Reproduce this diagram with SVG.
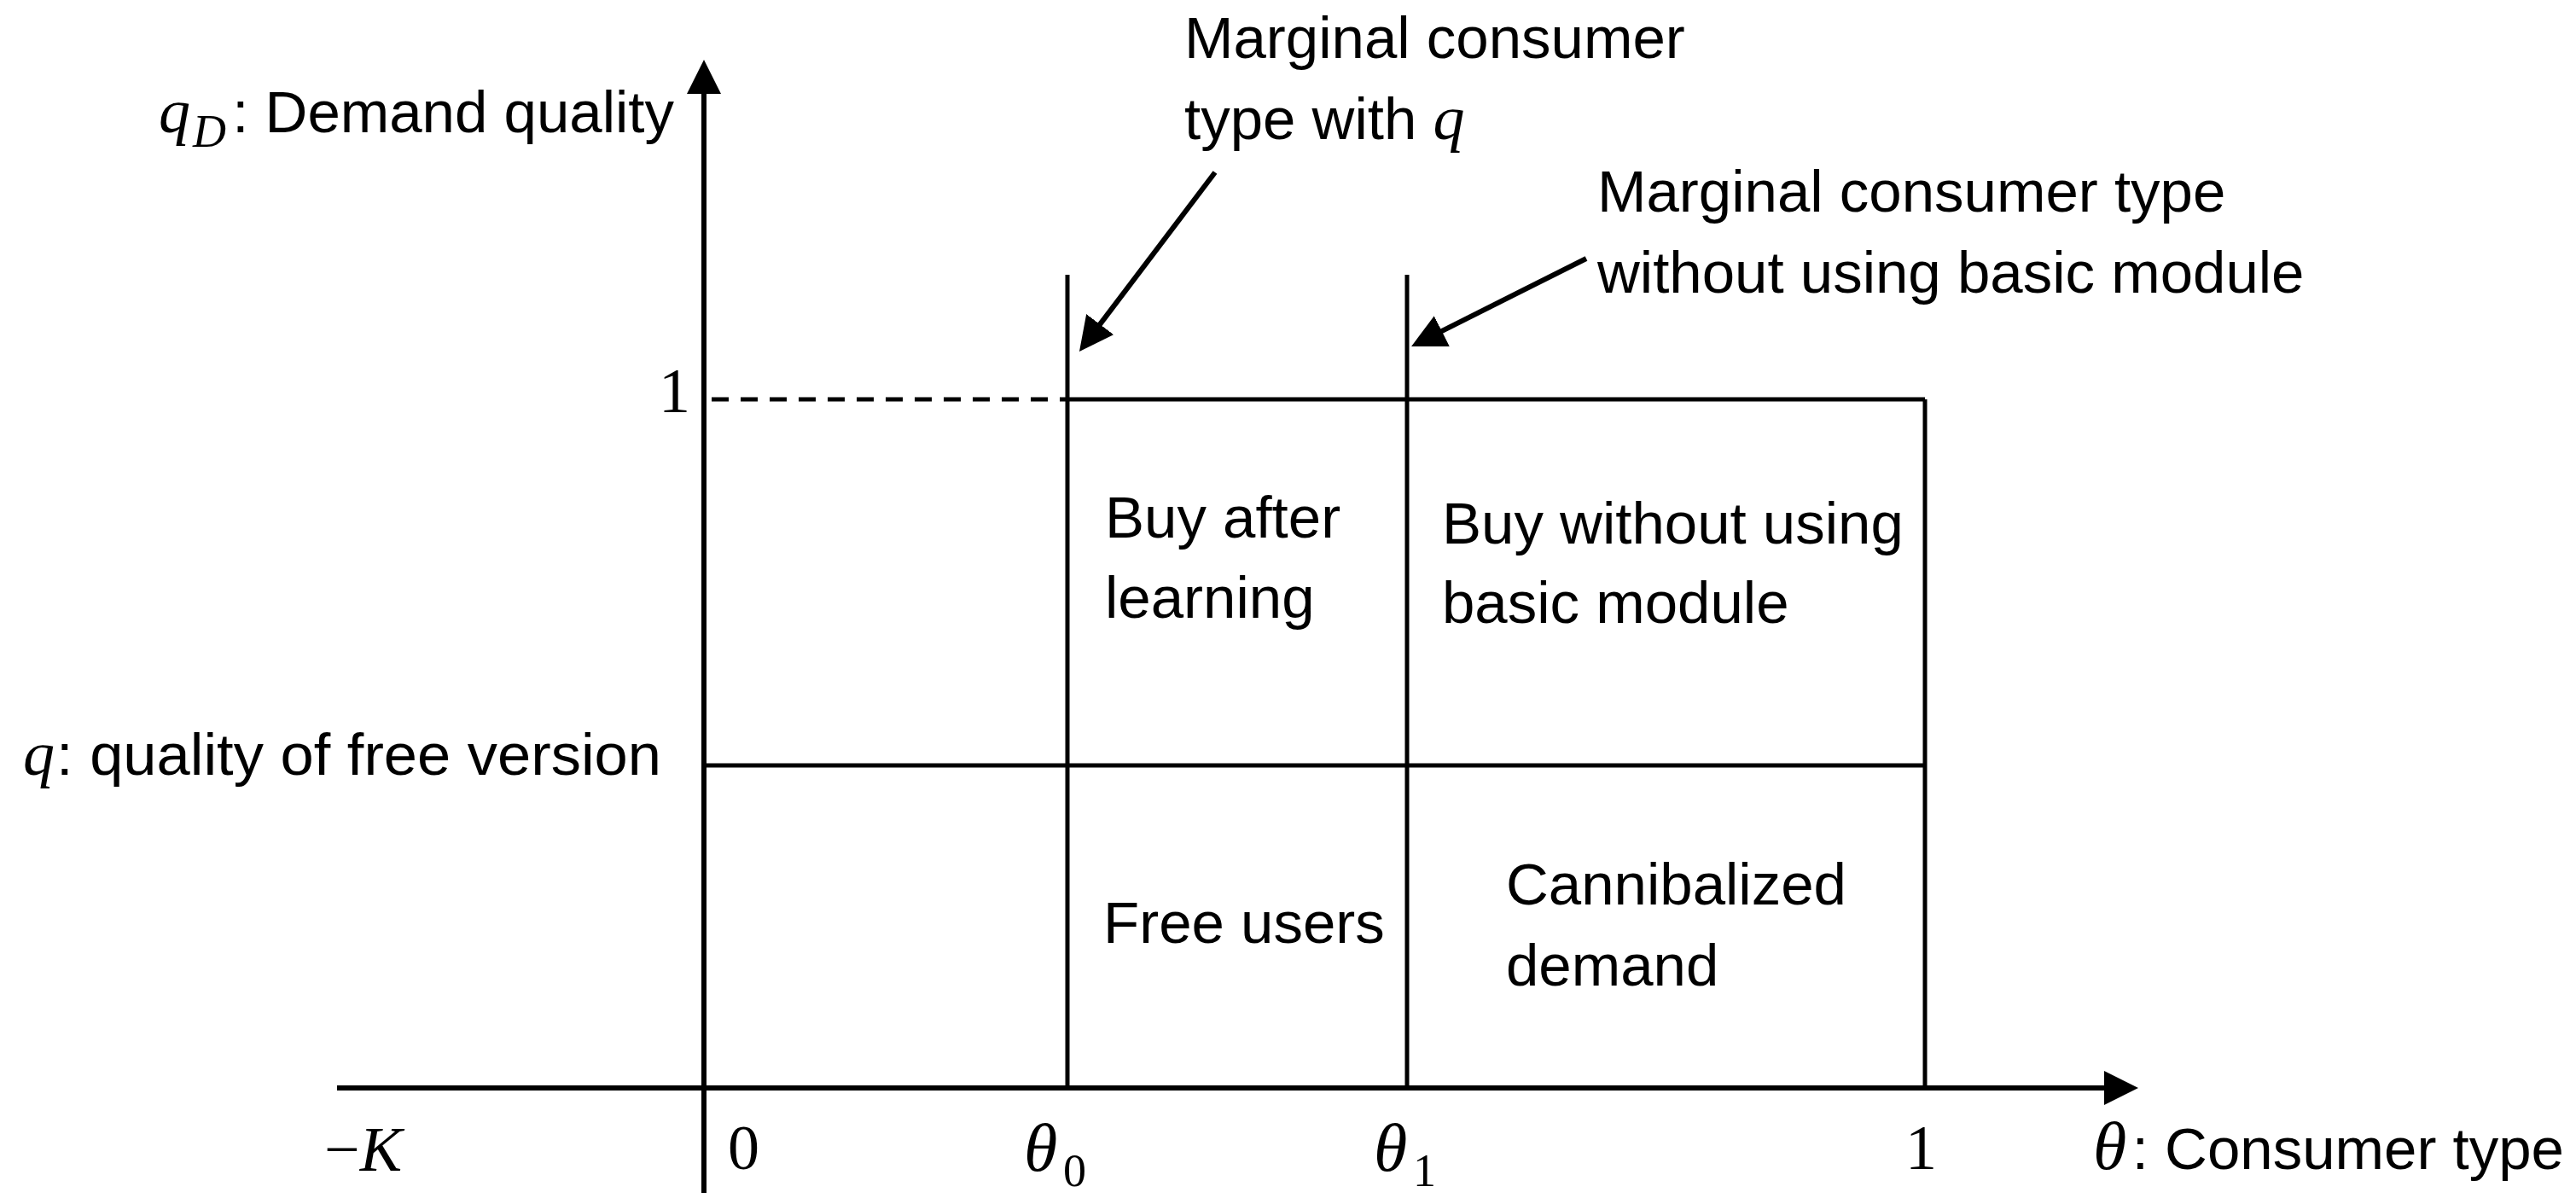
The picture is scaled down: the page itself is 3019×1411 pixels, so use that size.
<svg xmlns="http://www.w3.org/2000/svg" width="3019" height="1411" viewBox="0 0 3019 1411">
  <style>
    .ln { stroke: #000; fill: none; }
    .axis { stroke-width: 6; }
    .grid { stroke-width: 5; }
    .dash { stroke-width: 5; stroke-dasharray: 20 14; }
    .conn { stroke-width: 6; }
    .lbl { font-family: "Liberation Sans", Arial, sans-serif; font-size: 69px; fill: #000; }
    .math { font-family: "Liberation Serif", "Times New Roman", serif; font-size: 74px; fill: #000; }
    .mi { font-style: italic; }
    .th { font-size: 80px; }
    .sub { font-size: 54px; }
  </style>
  <defs>
    <marker id="ah" viewBox="0 0 40 40" markerWidth="40" markerHeight="40" refX="32" refY="20" orient="auto" markerUnits="userSpaceOnUse">
      <path d="M0,0 L40,20 L0,40 z" fill="#000"/>
    </marker>
  </defs>
  <rect width="3019" height="1411" fill="#fff"/>

  <g id="axes">
    <line class="ln axis" x1="825" y1="1398" x2="825" y2="78" marker-end="url(#ah)"/>
    <line class="ln axis" x1="395" y1="1275" x2="2498" y2="1275" marker-end="url(#ah)"/>
    <line class="ln dash" x1="834" y1="468" x2="1251" y2="468"/>
  </g>

  <g id="grid">
    <line class="ln grid" x1="1251" y1="468" x2="2256" y2="468"/>
    <line class="ln grid" x1="825" y1="897" x2="2256" y2="897"/>
    <line class="ln grid" x1="1251" y1="322" x2="1251" y2="1275"/>
    <line class="ln grid" x1="1649" y1="322" x2="1649" y2="1275"/>
    <line class="ln grid" x1="2256" y1="468" x2="2256" y2="1275"/>
  </g>

  <g id="connectors">
    <line class="ln conn" x1="1424" y1="202" x2="1269.8" y2="405.6" marker-end="url(#ah)"/>
    <line class="ln conn" x1="1859" y1="303" x2="1661.2" y2="402.4" marker-end="url(#ah)"/>
  </g>

  <g id="y-axis-label">
    <text class="math mi" x="186" y="155">q</text>
    <text class="math mi sub" x="226" y="172">D</text>
    <text class="lbl" x="790" y="155" text-anchor="end">: Demand quality</text>
  </g>

  <g id="tick-1-y">
    <text class="math" x="809" y="483" text-anchor="end">1</text>
  </g>

  <g id="q-label">
    <text class="math mi" x="27" y="908">q</text>
    <text class="lbl" x="66" y="908" textLength="709" lengthAdjust="spacingAndGlyphs">: quality of free version</text>
  </g>

  <g id="note-theta0">
    <text class="lbl" x="1388" y="68">Marginal consumer</text>
    <text class="lbl" x="1388" y="163">type with <tspan class="math mi" style="font-size:74px">q</tspan></text>
  </g>

  <g id="note-theta1">
    <text class="lbl" x="1872" y="248">Marginal consumer type</text>
    <text class="lbl" x="1872" y="343">without using basic module</text>
  </g>

  <g id="region-buy-after-learning">
    <text class="lbl" x="1295" y="630">Buy after</text>
    <text class="lbl" x="1295" y="724">learning</text>
  </g>

  <g id="region-buy-without">
    <text class="lbl" x="1690" y="637">Buy without using</text>
    <text class="lbl" x="1690" y="730">basic module</text>
  </g>

  <g id="region-free-users">
    <text class="lbl" x="1293" y="1105">Free users</text>
  </g>

  <g id="region-cannibalized">
    <text class="lbl" x="1765" y="1060">Cannibalized</text>
    <text class="lbl" x="1765" y="1155">demand</text>
  </g>

  <g id="x-ticks">
    <text class="math" x="380" y="1372">−<tspan class="mi">K</tspan></text>
    <text class="math" x="853" y="1370">0</text>
    <text class="math mi th" x="1200" y="1372">θ</text>
    <text class="math sub" x="1246" y="1390">0</text>
    <text class="math mi th" x="1610" y="1372">θ</text>
    <text class="math sub" x="1656" y="1390">1</text>
    <text class="math" x="2233" y="1370">1</text>
  </g>

  <g id="x-axis-label">
    <text class="math mi th" x="2453" y="1370">θ</text>
    <text class="lbl" x="3005" y="1370" text-anchor="end">: Consumer type</text>
  </g>
</svg>
